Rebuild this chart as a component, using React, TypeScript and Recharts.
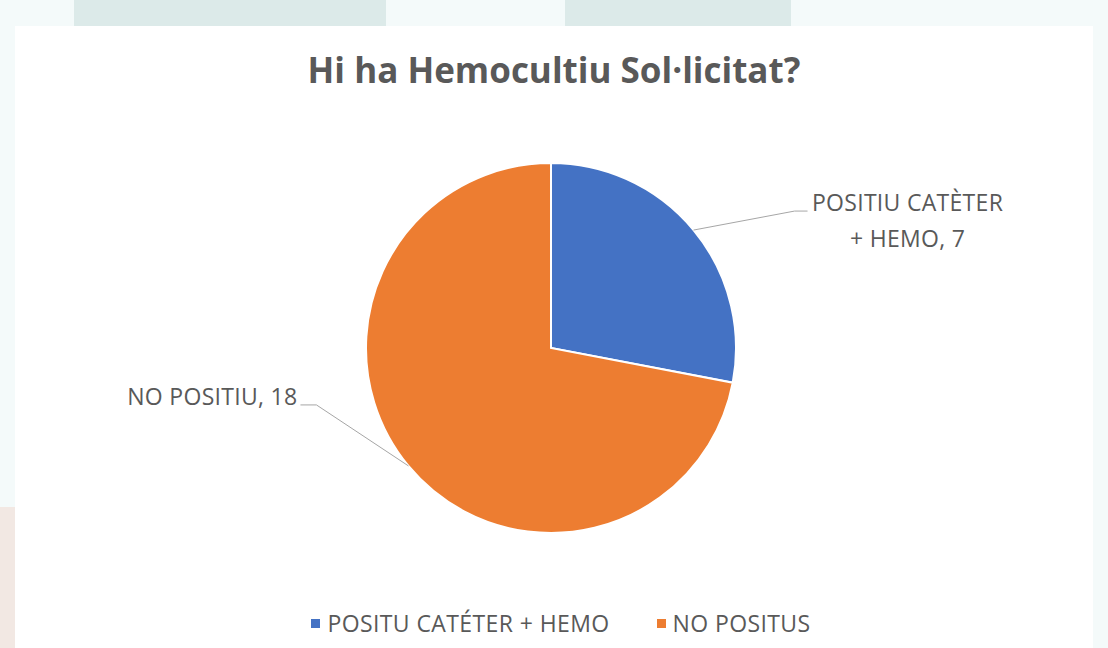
import React from 'react';
import { PieChart, Pie, Cell, Legend } from 'recharts';

const categories = ['POSITU CATÉTER + HEMO', 'NO POSITUS'];
const labelNames = [['POSITIU CATÈTER', '+ HEMO,'], ['NO POSITIU,']];
const values = [7, 18];
const colors = ['#4472C4', '#ED7D31'];
const title = 'Hi ha Hemocultiu Sol·licitat?';

const data = categories.map((name, i) => ({ name, value: values[i], idx: i }));

const FONT = '"Open Sans", Lato, sans-serif';
const TEXT = '#595959';

const renderLabel = (props: any) => {
  const { cx, cy, midAngle, outerRadius, index, value } = props;
  const RAD = Math.PI / 180;
  const ex = cx + outerRadius * Math.cos(-midAngle * RAD);
  const ey = cy + outerRadius * Math.sin(-midAngle * RAD);
  if (index === 0) {
    const bx = ex + 101;
    const by = ey - 19;
    const fx = bx + 13;
    return (
      <g>
        <polyline points={`${ex},${ey} ${bx},${by} ${fx},${by}`} fill="none" stroke="#a6a6a6" strokeWidth={1} />
        <text x={fx + 100} y={by} textAnchor="middle" fill={TEXT} fontFamily={FONT} fontSize={23} letterSpacing={0.3}>
          <tspan x={fx + 100} dy={0}>{labelNames[0][0]}</tspan>
          <tspan x={fx + 100} dy={36}>{`${labelNames[0][1]} ${value}`}</tspan>
        </text>
      </g>
    );
  }
  const bx = ex - 92;
  const by = ey - 61;
  const fx = bx - 16;
  return (
    <g>
      <polyline points={`${ex},${ey} ${bx},${by} ${fx},${by}`} fill="none" stroke="#a6a6a6" strokeWidth={1} />
      <text x={fx - 3} y={by} textAnchor="end" fill={TEXT} fontFamily={FONT} fontSize={23} letterSpacing={0.3}>
        {`${labelNames[1][0]} ${value}`}
      </text>
    </g>
  );
};

const renderLegend = () => (
  <div style={{ display: 'flex', justifyContent: 'center', fontFamily: FONT, fontSize: 23, letterSpacing: 0.4, color: TEXT, paddingLeft: 14 }}>
    {categories.map((c, i) => (
      <div key={c} style={{ display: 'flex', alignItems: 'center', marginRight: i === 0 ? 47 : 0 }}>
        <div style={{ width: 9, height: 9, background: colors[i], marginRight: 7 }} />
        <span>{c}</span>
      </div>
    ))}
  </div>
);

export default function App() {
  return (
    <div style={{ position: 'fixed', left: 0, top: 0, width: 1108, height: 648, background: '#f4fafa', overflow: 'hidden' }}>
      <div style={{ position: 'absolute', left: 74, top: 0, width: 312, height: 26, background: '#dceae9' }} />
      <div style={{ position: 'absolute', left: 565, top: 0, width: 226, height: 26, background: '#dceae9' }} />
      <div style={{ position: 'absolute', left: 0, top: 507, width: 15, height: 141, background: '#f2e8e3' }} />
      <div style={{ position: 'absolute', left: 15, top: 26, width: 1078, height: 622, background: '#ffffff' }}>
        <div style={{ position: 'absolute', left: 0, top: 20, width: 1078, textAlign: 'center', fontFamily: FONT, fontWeight: 700, fontSize: 35, color: TEXT, lineHeight: '48px' }}>
          {title}
        </div>
        <PieChart width={1078} height={622}>
          <Pie
            data={data}
            dataKey="value"
            nameKey="name"
            cx={531}
            cy={317}
            outerRadius={185}
            startAngle={90}
            endAngle={-270}
            stroke="#ffffff"
            strokeWidth={2}
            label={renderLabel}
            labelLine={false}
            isAnimationActive={false}
          >
            {data.map((d, i) => (
              <Cell key={d.name} fill={colors[i]} />
            ))}
          </Pie>
          <Legend content={renderLegend} verticalAlign="bottom" wrapperStyle={{ bottom: 9 }} />
        </PieChart>
      </div>
    </div>
  );
}
